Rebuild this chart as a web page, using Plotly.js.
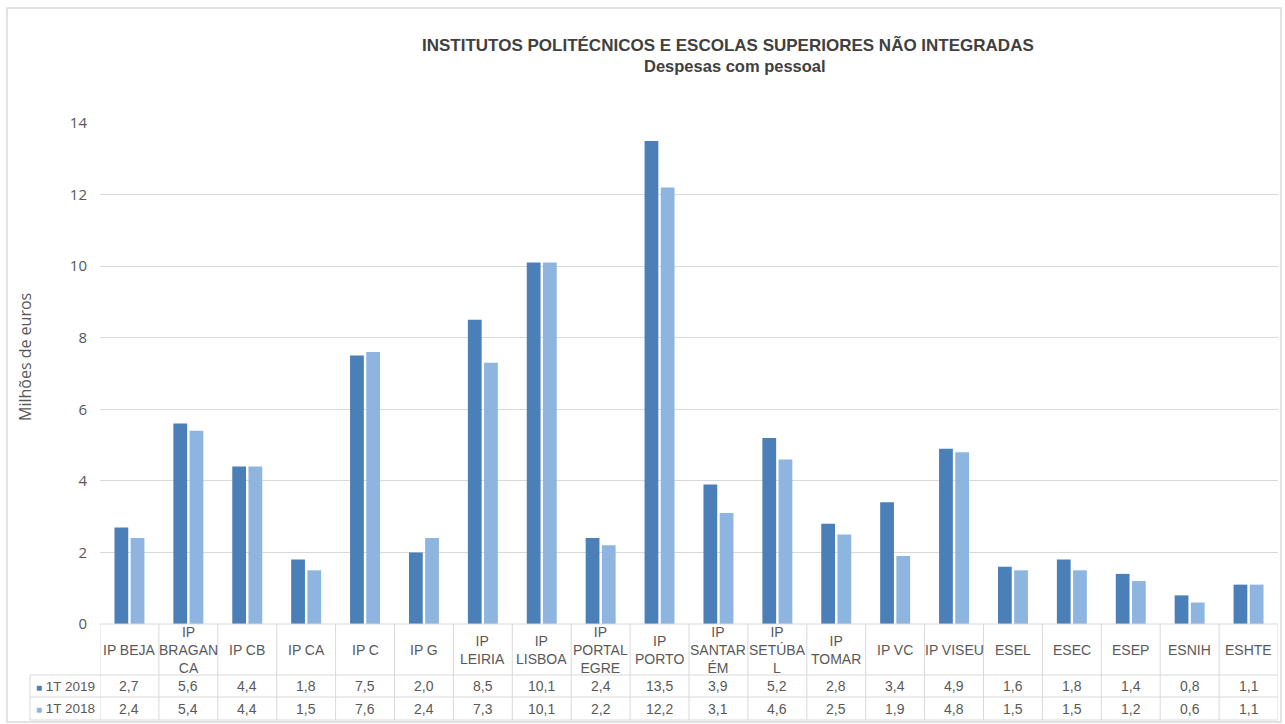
<!DOCTYPE html>
<html>
<head>
<meta charset="utf-8">
<script src="https://cdn.plot.ly/plotly-3.0.1.min.js"></script>
<style>html,body{margin:0;padding:0;background:#fff;}#chart{width:1285px;height:724px;}</style>
</head>
<body>
<div id="chart"></div>
<script>
// ---- data ----
const categories = ["IP BEJA","IP BRAGANCA","IP CB","IP CA","IP C","IP G","IP LEIRIA","IP LISBOA","IP PORTALEGRE","IP PORTO","IP SANTARÉM","IP SETÚBAL","IP TOMAR","IP VC","IP VISEU","ESEL","ESEC","ESEP","ESNIH","ESHTE"];
const categoryLabels = ["IP BEJA","IP<br>BRAGAN<br>CA","IP CB","IP CA","IP C","IP G","IP<br>LEIRIA","IP<br>LISBOA","IP<br>PORTAL<br>EGRE","IP<br>PORTO","IP<br>SANTAR<br>ÉM","IP<br>SETÚBA<br>L","IP<br>TOMAR","IP VC","IP VISEU","ESEL","ESEC","ESEP","ESNIH","ESHTE"];
const series2019Name = "1T 2019";
const series2018Name = "1T 2018";
const values2019 = [2.7,5.6,4.4,1.8,7.5,2.0,8.5,10.1,2.4,13.5,3.9,5.2,2.8,3.4,4.9,1.6,1.8,1.4,0.8,1.1];
const values2018 = [2.4,5.4,4.4,1.5,7.6,2.4,7.3,10.1,2.2,12.2,3.1,4.6,2.5,1.9,4.8,1.5,1.5,1.2,0.6,1.1];
const yTicks = [0,2,4,6,8,10,12,14];
const titleLine1 = "INSTITUTOS POLITÉCNICOS E ESCOLAS SUPERIORES NÃO INTEGRADAS";
const titleLine2 = "Despesas com pessoal";
const yTitle = "Milhões de euros";

// ---- style / geometry ----
const W = 1285, H = 724;
const PL = 100, PR = 1278, PT = 123, PB = 624;
const c2019 = "#4a7fb8", c2018 = "#8eb4e0";
const txt = "#595959", grid = "#d9d9d9";
const fx = px => (px - PL) / (PR - PL);
const fy = py => (PB - py) / (PB - PT);
const fmt = v => v.toFixed(1).replace('.', ',');

const traces = [
  {type:'bar', name:series2019Name, x:categories, y:values2019, marker:{color:c2019}, hoverinfo:'x+y'},
  {type:'bar', name:series2018Name, x:categories, y:values2018, marker:{color:c2018}, hoverinfo:'x+y'}
];

const shapes = [];
const annotations = [];
const tableFont = {family:"Liberation Sans, Arial, sans-serif", size:14, color:txt};
const legendFont = {family:"Liberation Sans, Arial, sans-serif", size:13.5, color:txt};
const lineStyle = {color:grid, width:1};

// outer chart border
shapes.push({type:'rect', xref:'paper', yref:'paper', x0:fx(7), x1:fx(1281), y0:fy(722), y1:fy(8), line:{color:"#d9d9d9", width:1.5}, layer:'below'});

// table rows
const rowHeaderTop = PB, row1Top = 675, row2Top = 697, tableBottom = 720, legendLeft = 30;
shapes.push({type:'line', xref:'paper', yref:'paper', x0:0, x1:1, y0:fy(PB), y1:fy(PB), line:lineStyle});
[row1Top, row2Top, tableBottom].forEach(py => {
  shapes.push({type:'line', xref:'paper', yref:'paper', x0:fx(legendLeft), x1:1, y0:fy(py), y1:fy(py), line:lineStyle});
});
shapes.push({type:'line', xref:'paper', yref:'paper', x0:fx(legendLeft), x1:fx(legendLeft), y0:fy(row1Top), y1:fy(tableBottom), line:lineStyle});
for (let i = 0; i <= categories.length; i++) {
  shapes.push({type:'line', xref:'x', yref:'paper', x0:i-0.5, x1:i-0.5, y0:fy(rowHeaderTop), y1:fy(tableBottom), line:lineStyle});
}

categories.forEach((c, i) => {
  annotations.push({xref:'x', yref:'paper', x:i, y:fy((rowHeaderTop+row1Top)/2), text:categoryLabels[i], showarrow:false, font:tableFont, align:'center', xanchor:'center', yanchor:'middle'});
  annotations.push({xref:'x', yref:'paper', x:i, y:fy((row1Top+row2Top)/2), text:fmt(values2019[i]), showarrow:false, font:tableFont, xanchor:'center', yanchor:'middle'});
  annotations.push({xref:'x', yref:'paper', x:i, y:fy((row2Top+tableBottom)/2), text:fmt(values2018[i]), showarrow:false, font:tableFont, xanchor:'center', yanchor:'middle'});
});
annotations.push({xref:'paper', yref:'paper', x:fx(34), y:fy((row1Top+row2Top)/2), xanchor:'left', yanchor:'middle', showarrow:false, font:legendFont,
  text:'<span style="color:'+c2019+';font-size:10px">■</span> '+series2019Name});
annotations.push({xref:'paper', yref:'paper', x:fx(34), y:fy((row2Top+tableBottom)/2), xanchor:'left', yanchor:'middle', showarrow:false, font:legendFont,
  text:'<span style="color:'+c2018+';font-size:10px">■</span> '+series2018Name});

// titles
annotations.push({xref:'paper', yref:'paper', x:fx(728), y:fy(45), text:'<b>'+titleLine1+'</b>', showarrow:false, xanchor:'center', yanchor:'middle',
  font:{family:"Liberation Sans, Arial, sans-serif", size:17, color:"#404040"}});
annotations.push({xref:'paper', yref:'paper', x:fx(735), y:fy(66), text:'<b>'+titleLine2+'</b>', showarrow:false, xanchor:'center', yanchor:'middle',
  font:{family:"Liberation Sans, Arial, sans-serif", size:16.5, color:"#404040"}});
annotations.push({xref:'paper', yref:'paper', x:fx(25), y:fy(357), text:yTitle, textangle:-90, showarrow:false, xanchor:'center', yanchor:'middle',
  font:{family:"Open Sans, sans-serif", size:16, color:txt}});

const layout = {
  width:W, height:H,
  margin:{l:PL, r:W-PR, t:PT, b:H-PB, pad:0},
  paper_bgcolor:'#fff', plot_bgcolor:'#fff',
  showlegend:false,
  barmode:'group', bargap:0.45, bargroupgap:0.15,
  xaxis:{type:'category', showticklabels:false, ticks:'', showgrid:false, zeroline:false, showline:false, range:[-0.5, categories.length-0.5], fixedrange:true},
  yaxis:{range:[0,14], tickvals:yTicks, ticks:'', showgrid:true, gridcolor:grid, gridwidth:1, zeroline:false, showline:false,
    ticklabelstandoff:12, tickfont:{family:"Open Sans, sans-serif", size:15, color:txt}, fixedrange:true},
  shapes:shapes, annotations:annotations
};
Plotly.newPlot('chart', traces, layout, {displayModeBar:false, staticPlot:true});
</script>
</body>
</html>
